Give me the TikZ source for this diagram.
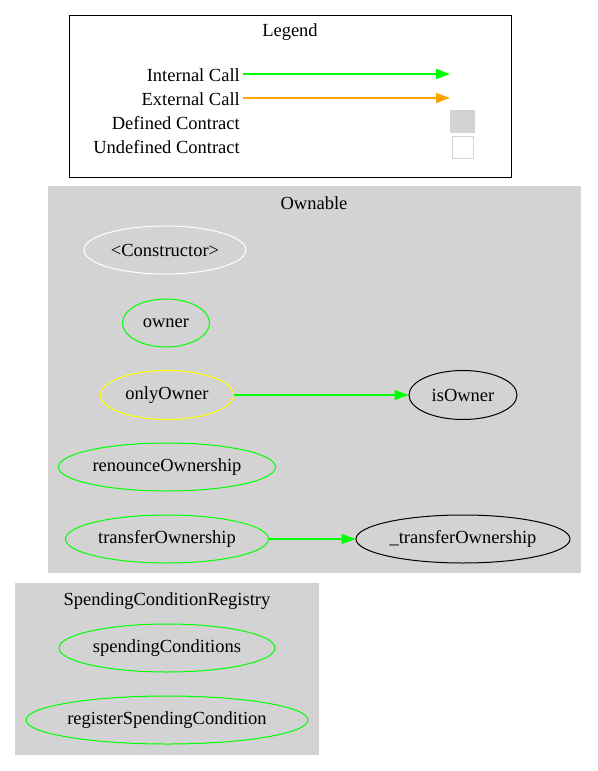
\documentclass[tikz,border=0pt]{standalone}
\usepackage{fontspec}
\setmainfont{Liberation Serif}
\usetikzlibrary{shapes.geometric,arrows.meta}
\definecolor{callgreen}{RGB}{0,255,0}
\definecolor{callorange}{RGB}{255,165,0}
\definecolor{clustergrey}{RGB}{211,211,211}
\definecolor{ctorwhite}{RGB}{255,255,255}
\definecolor{modyellow}{RGB}{255,255,0}
\tikzset{
  fn/.style={ellipse,draw,line width=1pt,inner sep=0pt,font=\fontsize{18.5}{22}\selectfont},
  call/.style={line width=1.4pt,-{Triangle[length=14pt,width=10pt]}},
  lbl/.style={font=\fontsize{18.5}{22}\selectfont,inner sep=0pt}
}
\begin{document}
\begin{tikzpicture}[x=1pt,y=-1pt]
			\useasboundingbox (0,0) rectangle (597,771);
			% draw legend
			\draw[line width=1pt] (69,15) rectangle (511,177);
			\node[lbl] (legend) at (290,32) {Legend};
			\node[lbl,anchor=east] (internal) at (240,75) {Internal Call};
			\node[lbl,anchor=east] (external) at (240,99) {External Call};
			\node[lbl,anchor=east] (defined) at (240,123) {Defined Contract};
			\node[lbl,anchor=east] (undefined) at (240,147) {Undefined Contract};
			\coordinate (internalend) at (450,74);
			\coordinate (externalend) at (450,98);
			\draw[call,callgreen] (243,74) -- (internalend);
			\draw[call,callorange] (243,98) -- (externalend);
			\fill[clustergrey] (450,110) rectangle (475,133);
			\draw[clustergrey,line width=1pt] (452,136) rectangle (473,158);
			
			% draw clusters
			\fill[clustergrey] (48,186) rectangle (581,573);
			\node[lbl] (ownable) at (314,203) {Ownable};
			\fill[clustergrey] (15,583) rectangle (319,755);
			\node[lbl] (registry) at (167,601) {SpendingConditionRegistry};
			
			% draw nodes
			\node[fn,ctorwhite,text=black,minimum width=162pt,minimum height=48pt] (ctor) at (165,250) {<Constructor>};
			\node[fn,callgreen,text=black,minimum width=87pt,minimum height=48pt] (owner) at (166,323) {owner};
			\node[fn,modyellow,text=black,minimum width=133pt,minimum height=49pt] (onlyowner) at (167,395) {onlyOwner};
			\node[fn,black,minimum width=108pt,minimum height=49pt] (isowner) at (463,395) {isOwner};
			\node[fn,callgreen,text=black,minimum width=217pt,minimum height=48pt] (renounce) at (167,467) {renounceOwnership};
			\node[fn,callgreen,text=black,minimum width=203pt,minimum height=48pt] (transfer) at (167,539) {transferOwnership};
			\node[fn,black,minimum width=214pt,minimum height=48pt] (itransfer) at (463,539) {\_transferOwnership};
			\node[fn,callgreen,text=black,minimum width=216pt,minimum height=48pt] (conditions) at (167,648) {spendingConditions};
			\node[fn,callgreen,text=black,minimum width=280pt,minimum height=48pt] (register) at (167,720) {registerSpendingCondition};
			
			%%%calls
			\draw[call,callgreen] (onlyowner) -- (isowner);
			\draw[call,callgreen] (transfer) -- (itransfer);
\end{tikzpicture}
\end{document}
